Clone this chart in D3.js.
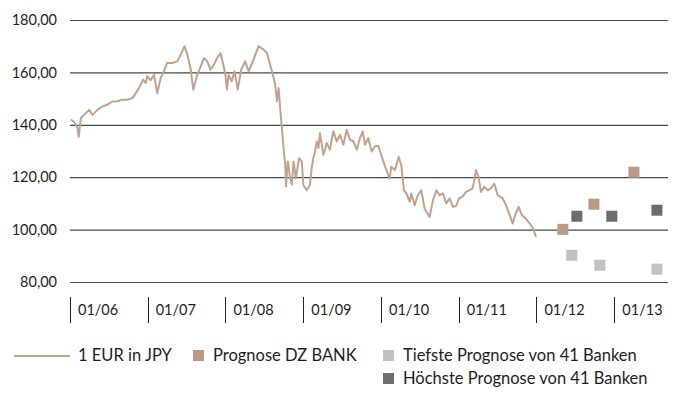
<!DOCTYPE html>
<html>
<head>
<meta charset="utf-8">
<script src="https://cdn.jsdelivr.net/npm/d3@7"></script>
<style>
  body { margin: 0; background: #fff; }
  svg { display: block; font-family: Lato, "Open Sans", sans-serif; }
</style>
</head>
<body>
<div id="chart"></div>
<script>
// 1 EUR in JPY
const rateDates = [
  "2006-01-05","2006-01-21","2006-02-05","2006-02-11","2006-02-21","2006-03-08","2006-04-01","2006-04-17",
  "2006-05-10","2006-06-02","2006-06-26","2006-07-19","2006-08-12","2006-09-04","2006-09-28","2006-10-21",
  "2006-11-06","2006-11-21","2006-12-10","2006-12-23","2006-12-30","2007-01-15","2007-01-30","2007-02-15",
  "2007-03-03","2007-03-18","2007-04-02","2007-04-26","2007-05-20","2007-06-05","2007-06-23","2007-07-06",
  "2007-07-21","2007-08-03","2007-08-22","2007-09-07","2007-09-22","2007-10-08","2007-10-23","2007-11-08",
  "2007-11-23","2007-12-09","2007-12-22","2008-01-01","2008-01-08","2008-01-16","2008-01-31","2008-02-13",
  "2008-02-28","2008-03-15","2008-04-03","2008-04-19","2008-05-12","2008-06-05","2008-06-28","2008-07-14",
  "2008-07-29","2008-08-09","2008-08-22","2008-08-30","2008-09-07","2008-09-14","2008-09-22","2008-09-30",
  "2008-10-08","2008-10-12","2008-10-20","2008-10-31","2008-11-08","2008-11-16","2008-11-27","2008-12-12",
  "2008-12-25","2009-01-01","2009-01-17","2009-02-01","2009-02-09","2009-02-17","2009-02-25","2009-03-05",
  "2009-03-13","2009-03-20","2009-04-05","2009-04-21","2009-05-06","2009-05-22","2009-06-07","2009-06-22",
  "2009-07-08","2009-07-24","2009-08-08","2009-08-24","2009-09-09","2009-09-24","2009-10-07","2009-10-18",
  "2009-11-02","2009-11-18","2009-12-04","2009-12-19","2010-01-04","2010-01-18","2010-01-26","2010-02-11",
  "2010-02-18","2010-03-06","2010-03-14","2010-03-25","2010-04-06","2010-04-19","2010-04-30","2010-05-16",
  "2010-05-23","2010-06-08","2010-06-23","2010-07-09","2010-07-25","2010-08-17","2010-09-02","2010-09-18",
  "2010-10-03","2010-10-19","2010-11-03","2010-11-19","2010-12-05","2010-12-20","2011-01-03","2011-01-19",
  "2011-02-04","2011-02-19","2011-03-07","2011-03-15","2011-03-23","2011-04-04","2011-04-15","2011-05-01",
  "2011-05-17","2011-06-01","2011-06-17","2011-07-03","2011-07-26","2011-08-11","2011-08-26","2011-09-11",
  "2011-09-23","2011-10-09","2011-10-25","2011-11-12","2011-12-01","2011-12-17","2011-12-30"
];
const rateValues = [
  142.0,141.0,138.9,135.4,142.6,143.8,145.7,143.8,
  145.7,147.0,147.7,148.9,149.0,149.6,149.6,150.2,
  152.1,154.0,157.2,156.0,158.5,157.0,159.1,152.0,
  157.9,160.4,163.6,163.6,164.2,166.8,170.0,166.8,
  161.7,153.4,159.1,162.3,165.5,164.2,161.0,162.9,
  165.5,167.4,162.9,159.1,153.4,159.0,156.6,160.4,
  153.4,161.0,164.2,160.4,164.9,170.0,168.7,167.4,
  162.9,159.8,155.3,149.0,154.0,146.4,138.8,131.2,
  124.7,116.5,126.0,119.6,117.1,126.0,119.6,127.3,
  126.0,117.0,115.0,117.0,123.5,127.3,129.8,133.7,
  131.1,136.8,128.5,133.0,130.5,137.5,133.7,136.2,
  132.4,138.1,134.3,133.7,130.5,134.9,137.5,132.4,
  134.9,129.8,131.8,132.0,128.0,124.6,122.7,119.5,
  124.0,122.7,124.6,127.8,124.6,115.0,113.8,110.6,
  113.8,109.3,113.1,115.0,108.0,104.8,111.3,115.0,
  113.1,113.8,110.0,111.9,108.7,109.0,112.0,112.6,
  114.4,115.0,115.7,118.9,122.7,120.1,114.4,116.3,
  115.0,115.7,117.6,113.1,112.0,109.3,106.1,102.3,
  105.5,108.7,105.5,104.2,102.3,100.3,97.2
];

// forecasts
const dzDates = ["2012-05-04", "2012-09-27", "2013-04-03"];
const dzValues = [100.1, 109.7, 121.9];
const lowDates = ["2012-06-15", "2012-10-25", "2013-07-20"];
const lowValues = [90.2, 86.4, 84.9];
const highDates = ["2012-07-09", "2012-12-20", "2013-07-20"];
const highValues = [105.1, 105.1, 107.4];

const yTicks = [80, 100, 120, 140, 160, 180];
const yearTicks = ["2006-01-01","2007-01-01","2008-01-01","2009-01-01","2010-01-01","2011-01-01","2012-01-01","2013-01-01"];
const xDomain = ["2006-01-01", "2013-09-10"];

const legendItems = [
  {label: "1 EUR in JPY", kind: "line"},
  {label: "Prognose DZ BANK", kind: "dz"},
  {label: "Tiefste Prognose von 41 Banken", kind: "low"},
  {label: "Höchste Prognose von 41 Banken", kind: "high"}
];

const width = 676, height = 405;
const margin = {top: 20, right: 8, bottom: 123, left: 70};
const colors = {line: "#c2a28d", dz: "#bb9a85", low: "#c1c1c1", high: "#6d6d6d"};
const fontFamily = "Lato, Open Sans, sans-serif";

const parse = d3.timeParse("%Y-%m-%d");
const fmtY = v => d3.format(".2f")(v).replace(".", ",");

const svg = d3.select("#chart").append("svg")
    .attr("width", width)
    .attr("height", height)
    .attr("viewBox", `0 0 ${width} ${height}`);

const x = d3.scaleTime()
    .domain(xDomain.map(parse))
    .range([margin.left, width - margin.right]);

const y = d3.scaleLinear()
    .domain([80, 180])
    .range([height - margin.bottom, margin.top]);

// horizontal grid + y labels
const yAxis = g => g
    .attr("transform", `translate(${margin.left},0)`)
    .call(d3.axisLeft(y).tickValues(yTicks).tickFormat(fmtY).tickSize(0).tickPadding(13))
    .call(g => g.select(".domain").remove())
    .call(g => g.selectAll(".tick text")
        .attr("fill", "#1e1e1e")
        .attr("font-size", 14.5)
        .attr("font-family", fontFamily))
    .call(g => g.selectAll(".tick line").clone()
        .attr("x2", width - margin.left - margin.right)
        .attr("stroke", "#4a4a4a")
        .attr("stroke-width", 1.2));

svg.append("g").call(yAxis);

// year separators below the plot
const years = yearTicks.map(parse);
const xAxis = svg.append("g")
    .attr("font-family", fontFamily);
xAxis.selectAll("line")
  .data(years)
  .join("line")
    .attr("x1", d => Math.round(x(d)) + 0.5)
    .attr("x2", d => Math.round(x(d)) + 0.5)
    .attr("y1", 297)
    .attr("y2", 323)
    .attr("stroke", "#222")
    .attr("stroke-width", 1);
xAxis.selectAll("text")
  .data(years)
  .join("text")
    .attr("x", d => x(d) + 8)
    .attr("y", 315)
    .attr("font-size", 14.5)
    .attr("fill", "#1e1e1e")
    .text(d3.timeFormat("%m/%y"));

// exchange rate line
const series = rateDates.map((d, i) => ({date: parse(d), value: rateValues[i]}));
const line = d3.line()
    .x(d => x(d.date))
    .y(d => y(d.value));

svg.append("path")
    .datum(series)
    .attr("fill", "none")
    .attr("stroke", colors.line)
    .attr("stroke-width", 2)
    .attr("stroke-linejoin", "round")
    .attr("d", line);

// forecast squares
const sq = 11;
const forecasts = [
  {kind: "low", dates: lowDates, values: lowValues},
  {kind: "high", dates: highDates, values: highValues},
  {kind: "dz", dates: dzDates, values: dzValues}
];
forecasts.forEach(f => {
  svg.append("g").selectAll("rect")
    .data(f.dates.map((d, i) => ({date: parse(d), value: f.values[i]})))
    .join("rect")
      .attr("x", d => x(d.date) - sq / 2)
      .attr("y", d => y(d.value) - sq / 2)
      .attr("width", sq)
      .attr("height", sq)
      .attr("fill", colors[f.kind]);
});

// legend
const legendPos = [[14, 361], [193, 361], [383, 361], [383, 384]];
const legend = svg.append("g")
    .attr("font-family", fontFamily)
    .attr("font-size", 16.5)
    .attr("fill", "#1e1e1e");
legendItems.forEach((item, i) => {
  const [lx, ly] = legendPos[i];
  const g = legend.append("g").attr("transform", `translate(${lx},${ly})`);
  if (item.kind === "line") {
    g.append("line")
        .attr("x1", 0).attr("x2", 56)
        .attr("y1", -5).attr("y2", -5)
        .attr("stroke", colors.line)
        .attr("stroke-width", 2);
    g.append("text").attr("x", 64).attr("y", 0).text(item.label);
  } else {
    g.append("rect")
        .attr("x", 0).attr("y", -11)
        .attr("width", 11).attr("height", 11)
        .attr("fill", colors[item.kind]);
    g.append("text").attr("x", 20).attr("y", 0).text(item.label);
  }
});
</script>
</body>
</html>
